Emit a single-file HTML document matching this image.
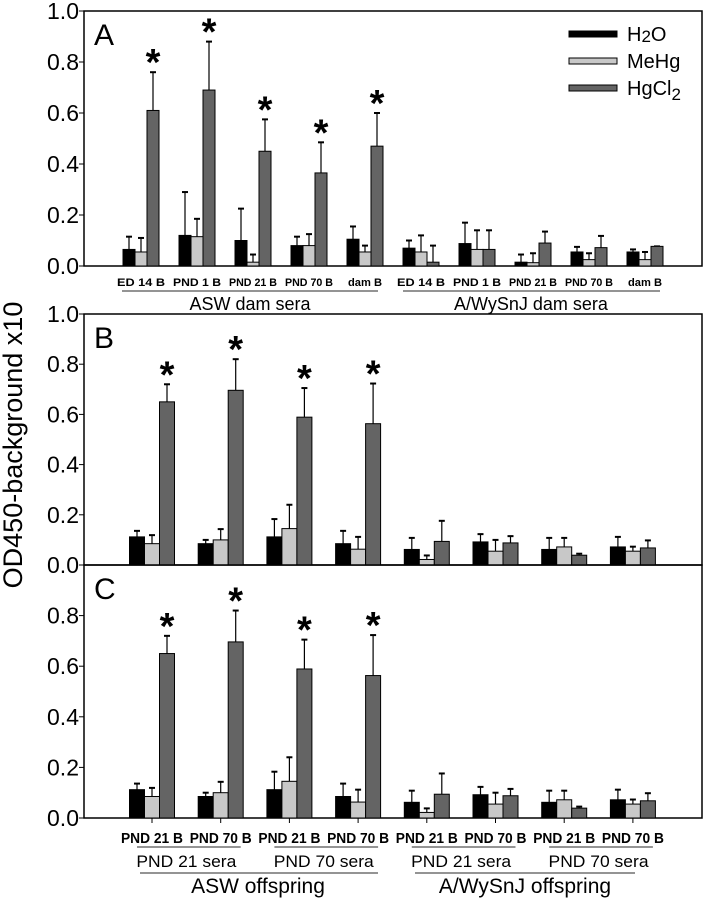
<!DOCTYPE html>
<html><head><meta charset="utf-8"><style>
body{margin:0;background:#fff;}
svg{display:block;font-family:"Liberation Sans",sans-serif;}
</style></head><body>
<svg id="chart" width="705" height="899" viewBox="0 0 705 899" xmlns="http://www.w3.org/2000/svg"></svg>
<script>
const seriesNames = ["H2O","MeHg","HgCl2"];
const yTicks = [0.0,0.2,0.4,0.6,0.8,1.0];
const catsA = ["ED 14 B","PND 1 B","PND 21 B","PND 70 B","dam B","ED 14 B","PND 1 B","PND 21 B","PND 70 B","dam B"];
const h2oA = [0.065,0.12,0.10,0.08,0.105,0.07,0.088,0.015,0.055,0.055];
const h2oErrA = [0.115,0.29,0.225,0.115,0.155,0.10,0.17,0.045,0.075,0.065];
const mehgA = [0.055,0.115,0.015,0.08,0.055,0.055,0.065,0.013,0.025,0.025];
const mehgErrA = [0.11,0.185,0.045,0.125,0.08,0.12,0.14,0.05,0.05,0.055];
const hgcl2A = [0.61,0.69,0.45,0.365,0.47,0.015,0.065,0.09,0.072,0.077];
const hgcl2ErrA = [0.76,0.88,0.575,0.485,0.60,0.08,0.14,0.135,0.118,0.077];
const starsA = [true,true,true,true,true,false,false,false,false,false];
const catsB = ["PND 21 B","PND 70 B","PND 21 B","PND 70 B","PND 21 B","PND 70 B","PND 21 B","PND 70 B"];
const h2oB = [0.112,0.085,0.112,0.085,0.062,0.092,0.062,0.072];
const h2oErrB = [0.136,0.10,0.183,0.136,0.108,0.123,0.108,0.112];
const mehgB = [0.085,0.10,0.145,0.063,0.022,0.055,0.072,0.055];
const mehgErrB = [0.119,0.143,0.24,0.112,0.038,0.10,0.108,0.073];
const hgcl2B = [0.65,0.696,0.589,0.563,0.094,0.088,0.039,0.068];
const hgcl2ErrB = [0.72,0.82,0.705,0.723,0.176,0.115,0.045,0.098];
const starsB = [true,true,true,true,false,false,false,false];

const NS="http://www.w3.org/2000/svg";
const svg=document.getElementById('chart');
function mk(tag,attrs,parent){const e=document.createElementNS(NS,tag);for(const k in attrs)e.setAttribute(k,attrs[k]);(parent||svg).appendChild(e);return e;}
const fills=["#000000","#c8c8c8","#646464"];
const L=84,R=702;

function panel(id,top,base,cats,x0,dx,bw,vals,errs,stars,letter,drawTicksX,skipTop){
  const g=mk('g',{});
  
  
  const y=v=>base-(base-top)*v;
  const x=i=>x0+dx*i;
  const fr=mk('rect',{x:L,y:top,width:R-L,height:base-top,fill:'none',stroke:'#000','stroke-width':1.5},g);
  
  
  yTicks.forEach(t=>{
    if(skipTop && t===1.0) return;
    const tl=mk('line',{x1:L-5,x2:L,y1:y(t),y2:y(t),stroke:'#000','stroke-width':1},g);
    
    
    const tx=mk('text',{x:L-5,y:y(t)+8,'text-anchor':'end','font-size':23,fill:'#000'},g);
    
    
    tx.textContent=t.toFixed(1);
  });
  const lt=mk('text',{x:L+10,y:top+34,'font-size':30,fill:'#000'},g);
  
  
  lt.textContent=letter;
  cats.forEach((c,i)=>{
    const cx=x(i);
    if(drawTicksX){const tk=mk('line',{x1:cx,x2:cx,y1:base,y2:base+5,stroke:'#000'},g);
      
      }
    for(let s=0;s<3;s++){
      const bx=cx-1.5*bw+s*bw, v=vals[s][i], e=errs[s][i];
      const ex=bx+bw/2;
      const el=mk('line',{x1:ex,x2:ex,y1:y(v),y2:y(e),stroke:'#000','stroke-width':1.2},g);
      
      
      const ec=mk('line',{x1:ex-3,x2:ex+3,y1:y(e),y2:y(e),stroke:'#000','stroke-width':2},g);
      
      
      const r=mk('rect',{x:bx,y:y(v),width:bw,height:Math.max(0,y(0)-y(v)),fill:fills[s],stroke:'#000','stroke-width':1},g);
      
      
    }
    if(stars[i]){
      const st=mk('text',{x:cx+bw,y:y(errs[2][i])+3,'text-anchor':'middle','font-size':38,'font-weight':'bold',fill:'#000'},g);
      
      
      st.textContent='*';
    }
  });
  return {x,y};
}
function txt(x,y,s,size,opts){
  const t=mk('text',Object.assign({x:x,y:y,'text-anchor':'middle','font-size':size,fill:'#000'},opts||{}));
  t.textContent=s;return t;
}
function hl(x1,x2,yy){return mk('line',{x1:x1,x2:x2,y1:yy,y2:yy,stroke:'#555','stroke-width':1.3});}

// Panel A
const pa=panel('a',11,266,catsA,141,56,12,[h2oA,mehgA,hgcl2A],[h2oErrA,mehgErrA,hgcl2ErrA],starsA,'A',false,false);
catsA.forEach((c,i)=>{
  const t=txt(pa.x(i),286,c,11,{'font-weight':'bold','textLength':c.length>6?48:34,'lengthAdjust':'spacingAndGlyphs'});
  
  
});
let l=hl(122,378,291);
l=hl(403,660,291);
let t=txt(250,310,'ASW dam sera',18);
t=txt(531,310,'A/WySnJ dam sera',18);

// Legend
seriesNames.forEach((n,s)=>{
  const yy=34+27*s;
  const r=mk('rect',{x:569,y:yy-3,width:48,height:6,fill:fills[s],stroke:'#000','stroke-width':1});
  
  
  const tx=mk('text',{x:627,y:yy+7,'font-size':20,fill:'#000'});
  
  
  if(n==='H2O'){tx.innerHTML='H<tspan font-size="17" dy="1">2</tspan><tspan dy="-1">O</tspan>';}
  else if(n==='HgCl2'){tx.innerHTML='HgCl<tspan font-size="17" dy="5">2</tspan>';}
  else tx.textContent=n;
});

// Panel B and C
panel('b',314,565,catsB,152,68.7,15,[h2oB,mehgB,hgcl2B],[h2oErrB,mehgErrB,hgcl2ErrB],starsB,'B',false,false);
const pc=panel('c',565,818,catsB,152,68.7,15,[h2oB,mehgB,hgcl2B],[h2oErrB,mehgErrB,hgcl2ErrB],starsB,'C',true,true);
catsB.forEach((c,i)=>{
  const t=txt(pc.x(i),843,c,15,{'font-weight':'bold','textLength':62,'lengthAdjust':'spacingAndGlyphs'});
  
  
});
[[0,'PND 21 sera'],[2,'PND 70 sera'],[4,'PND 21 sera'],[6,'PND 70 sera']].forEach(([i,s])=>{
  const a=pc.x(i)-15,b=pc.x(i+1)+20;
  const ln=hl(a,b,847);
  const tt=txt((pc.x(i)+pc.x(i+1))/2,867,s,17,{'textLength':100,'lengthAdjust':'spacingAndGlyphs'});
});
l=hl(140,378,873);
l=hl(415,635,873);
t=txt(258,893,'ASW offspring',21);
t=txt(525,893,'A/WySnJ offspring',21);

// Y axis title
t=mk('text',{x:0,y:0,'text-anchor':'middle','font-size':27,fill:'#000',transform:'translate(22,445) rotate(-90)'});


t.textContent='OD450-background x10';
</script>
</body></html>
